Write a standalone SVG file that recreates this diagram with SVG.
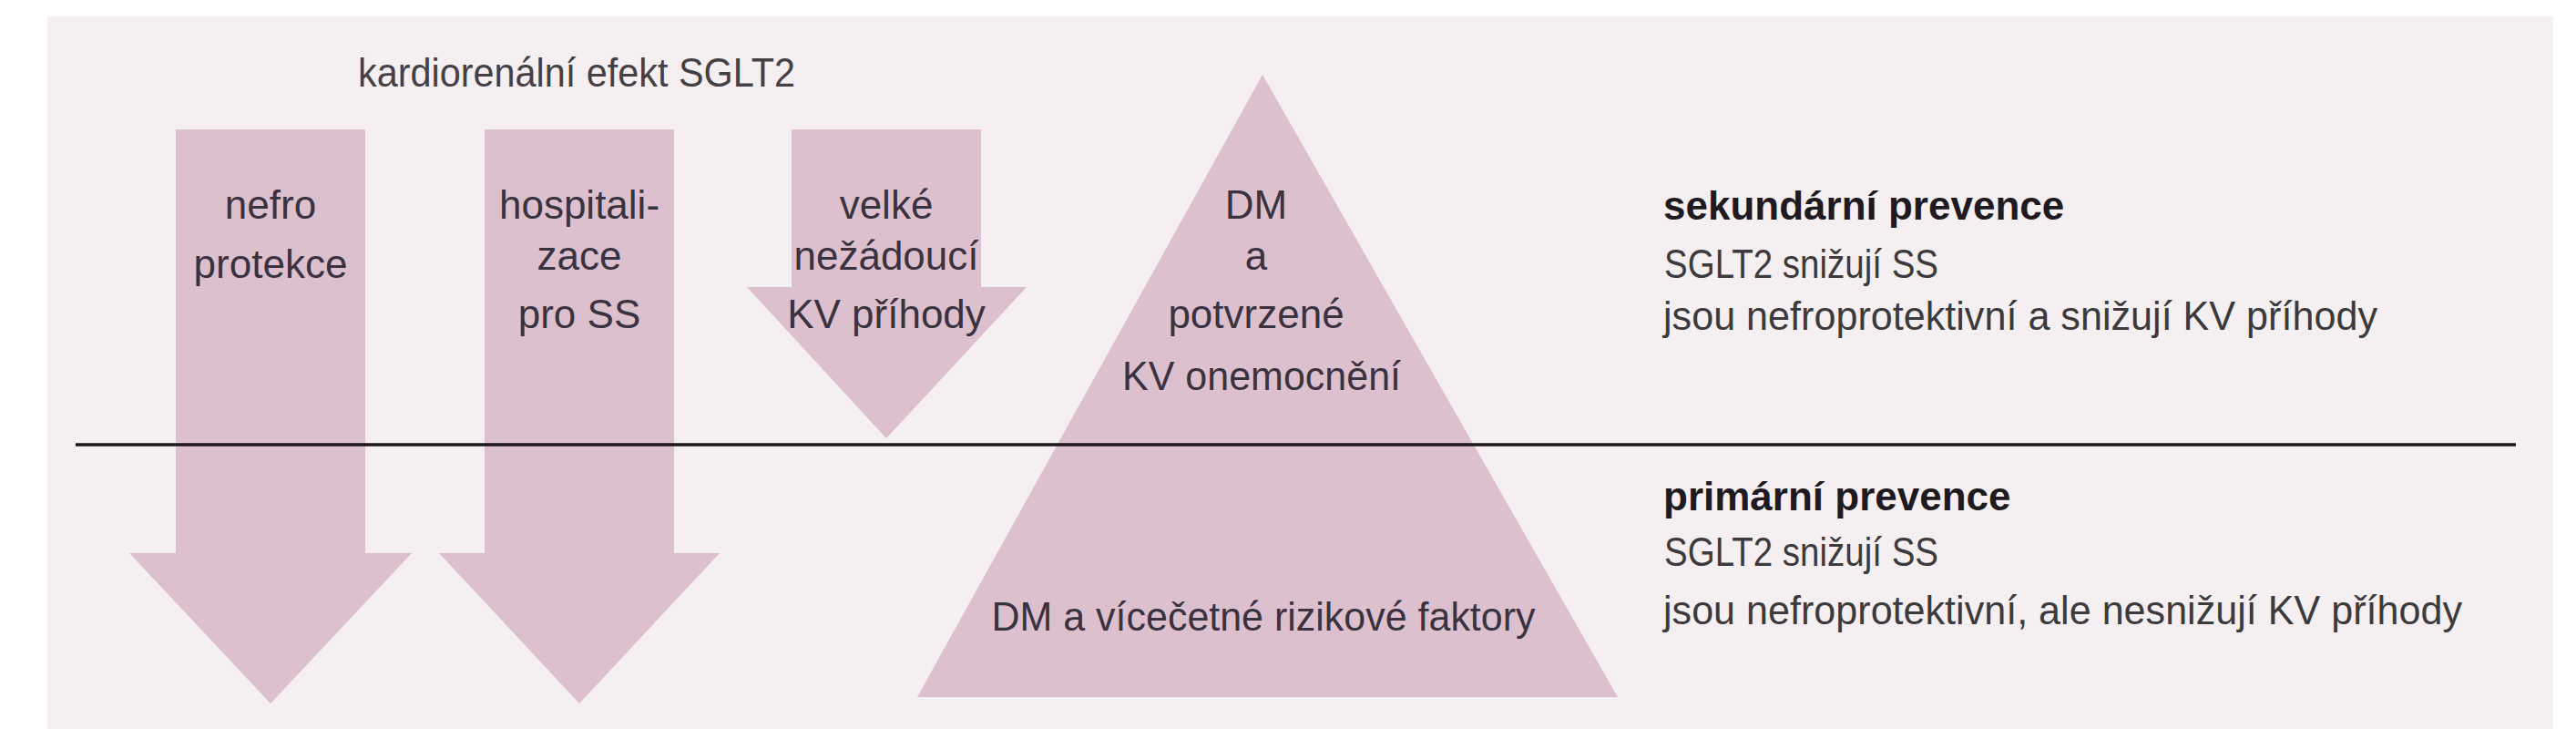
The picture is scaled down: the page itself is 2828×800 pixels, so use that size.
<svg xmlns="http://www.w3.org/2000/svg" width="2828" height="800" viewBox="0 0 2828 800">
<style>
.shape{fill:#dcc0cd}
.t{font-family:"Liberation Sans",Arial,sans-serif;font-size:44px;fill:#3b3240}
.c{text-anchor:middle}
.title{fill:#454045}
.r{fill:#3c3a3c}
.b{font-weight:bold;fill:#1f1a1f}
</style>
<rect x="0" y="0" width="2828" height="800" fill="#ffffff"/>
<rect id="panel" x="52" y="18" width="2751" height="782" fill="#f5eff1"/>
<text id="title" class="t title" x="393" y="95" textLength="480" lengthAdjust="spacingAndGlyphs">kardiorenální efekt SGLT2</text>
<g id="arrow-nefro">
<polygon class="shape" points="193,142 401,142 401,607 452,607 297,772 142,607 193,607"/>
<text class="t c" x="297" y="240">nefro</text>
<text class="t c" x="297" y="305">protekce</text>
</g>
<g id="arrow-hosp">
<polygon class="shape" points="532,142 740,142 740,607 790,607 636,772 482,607 532,607"/>
<text class="t c" x="636" y="240">hospitali-</text>
<text class="t c" x="636" y="296">zace</text>
<text class="t c" x="636" y="360">pro SS</text>
</g>
<g id="arrow-kv">
<polygon class="shape" points="869,142 1077,142 1077,315 1127,315 973,481 820,315 869,315"/>
<text class="t c" x="973" y="240">velké</text>
<text class="t c" x="973" y="296">nežádoucí</text>
<text class="t c" x="973" y="360">KV příhody</text>
</g>
<g id="pyramid">
<polygon class="shape" points="1386,82 1776,765 1007,765"/>
<text class="t c" x="1379" y="240">DM</text>
<text class="t c" x="1379" y="296">a</text>
<text class="t c" x="1379" y="360">potvrzené</text>
<text class="t c" x="1385" y="428" textLength="306" lengthAdjust="spacingAndGlyphs">KV onemocnění</text>
<text class="t c" x="1387" y="692" textLength="597" lengthAdjust="spacingAndGlyphs">DM a vícečetné rizikové faktory</text>
</g>
<g id="connectors">
<line x1="83" y1="488" x2="2762" y2="488" stroke="#1c171c" stroke-width="3.5"/>
</g>
<g id="secondary">
<text class="t b" x="1826" y="241">sekundární prevence</text>
<text class="t r" x="1827" y="305" textLength="301" lengthAdjust="spacingAndGlyphs">SGLT2 snižují SS</text>
<text class="t r" x="1826" y="362" textLength="784" lengthAdjust="spacingAndGlyphs">jsou nefroprotektivní a snižují KV příhody</text>
</g>
<g id="primary">
<text class="t b" x="1826" y="560">primární prevence</text>
<text class="t r" x="1827" y="621" textLength="301" lengthAdjust="spacingAndGlyphs">SGLT2 snižují SS</text>
<text class="t r" x="1826" y="685" textLength="877" lengthAdjust="spacingAndGlyphs">jsou nefroprotektivní, ale nesnižují KV příhody</text>
</g>
</svg>
